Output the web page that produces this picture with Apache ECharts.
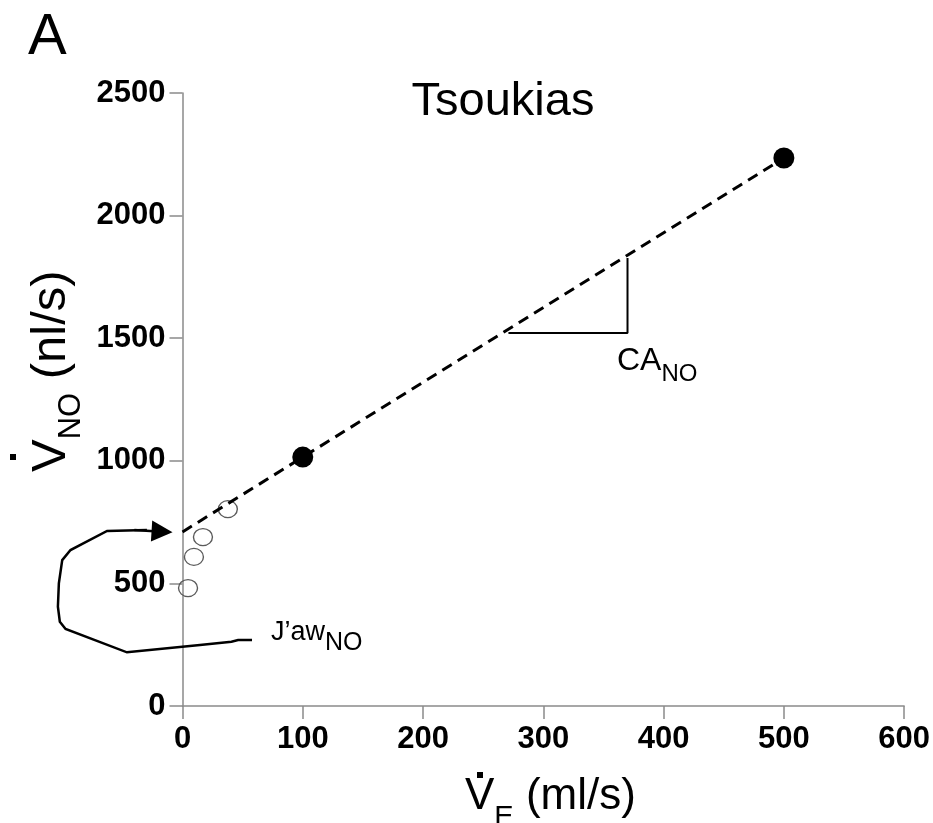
<!DOCTYPE html>
<html><head><meta charset="utf-8">
<script src="https://cdn.jsdelivr.net/npm/echarts@6.0.0/dist/echarts.min.js"></script>
<style>html,body{margin:0;padding:0;background:#fff}#c{width:933px;height:823px}</style>
</head><body><div id="c"></div>
<script>
// ---- data ----
const panelLabel = 'A';
const chartTitle = 'Tsoukias';
const xMin = 0, xMax = 600, xStep = 100;
const yMin = 0, yMax = 2500, yStep = 500;
// open circles (low flows)
const openX = [4.6, 9.5, 17, 37.7];
const openY = [481, 608, 689, 803];
// filled circles
const filledX = [100, 500];
const filledY = [1015, 2235];
// dashed regression line
const fitX = [0, 500];
const fitY = [710, 2235];
// slope triangle
const slopeX = [271, 370, 370];
const slopeY = [1521, 1521, 1827];
// J'aw annotation arrow path (body) and head segment
const jawX = [57.8, 46.2, 40.7, 14.5, -46.2, -97.2, -102, -103.6, -102.8, -100, -93.1, -82.1, -62.7, -29.6];
const jawY = [269, 269, 262, 249, 219, 314, 344, 405, 500, 595, 636, 664, 714, 718];
const headX = [-40, -17];
const headY = [718, 711];
const slopeLabel = ['CA', 'NO'];
const jawLabel = ['J\u2019aw', 'NO'];
const xName = ['V', 'E', ' (ml/s)'];
const yName = ['V', 'NO', ' (nl/s)'];

// ---- chart ----
const FF = '"Liberation Sans", Arial, Helvetica, sans-serif';
const zip = (a, b) => a.map((v, i) => [v, b[i]]);
const chart = echarts.init(document.getElementById('c'), null, {renderer: 'canvas'});

const axisCommon = {
  axisLine: {show: true, lineStyle: {color: '#8a8a8a', width: 1.5}},
  axisTick: {show: true, inside: false, length: 13, lineStyle: {color: '#8a8a8a', width: 1.5}},
  splitLine: {show: false},
  axisLabel: {color: '#000', fontFamily: FF, fontWeight: 'bold', fontSize: 31, formatter: v => String(v)}
};

function sub(parts, main, subSize, mainLH, subLH) {
  return {
    text: '{m|' + parts[0] + '}{s|' + parts[1] + '}' + (parts[2] ? '{m|' + parts[2] + '}' : ''),
    rich: {
      m: {fontFamily: FF, fontSize: main, lineHeight: mainLH, fill: '#000', color: '#000'},
      s: {fontFamily: FF, fontSize: subSize, lineHeight: subLH, verticalAlign: 'bottom', fill: '#000', color: '#000'}
    }
  };
}

const option = {
  backgroundColor: '#fff',
  animation: false,
  grid: {left: 182.5, right: 25, top: 93, bottom: 117, containLabel: false},
  xAxis: Object.assign({type: 'value', min: xMin, max: xMax, interval: xStep}, axisCommon,
    {axisLabel: Object.assign({}, axisCommon.axisLabel, {margin: 18})}),
  yAxis: Object.assign({type: 'value', min: yMin, max: yMax, interval: yStep}, axisCommon,
    {axisLabel: Object.assign({}, axisCommon.axisLabel, {margin: 17})}),
  series: [
    {
      type: 'line', data: zip(fitX, fitY), symbol: 'none', z: 3,
      lineStyle: {color: '#000', width: 3, type: [11, 7]}
    },
    {
      type: 'line', data: zip(slopeX, slopeY), symbol: 'none', z: 3,
      lineStyle: {color: '#000', width: 2}
    },
    {
      type: 'scatter', data: zip(openX, openY), symbol: 'circle', symbolSize: [19, 17], z: 2,
      itemStyle: {color: 'rgba(255,255,255,0)', borderColor: '#5a5a5a', borderWidth: 1.3, opacity: 1}
    },
    {
      type: 'scatter', data: zip(filledX, filledY), symbol: 'circle', symbolSize: 21, z: 4,
      itemStyle: {color: '#000', opacity: 1}
    },
    {
      type: 'lines', coordinateSystem: 'cartesian2d', polyline: true, clip: false, z: 5,
      lineStyle: {color: '#000', width: 2.5, opacity: 1, curveness: 0},
      data: [{coords: zip(jawX, jawY)}]
    },
    {
      type: 'lines', coordinateSystem: 'cartesian2d', polyline: false, clip: false, z: 5,
      symbol: ['none', 'triangle'], symbolSize: 21,
      lineStyle: {color: '#000', width: 2.5, opacity: 1, curveness: 0},
      itemStyle: {color: '#000'},
      data: [{coords: zip(headX, headY)}]
    }
  ],
  graphic: [
    {type: 'text', left: 28, top: 9, style: {text: panelLabel, font: '58px ' + FF, fill: '#000'}},
    {type: 'text', x: 503, y: 79, style: {text: chartTitle, font: '47px ' + FF, fill: '#000', align: 'center', verticalAlign: 'top'}},
    {type: 'text', x: 465, y: 762, style: Object.assign({align: 'left', verticalAlign: 'top'}, sub(xName, 44, 29, 70, 32))},
    {type: 'rect', shape: {x: 477, y: 772, width: 6, height: 6}, style: {fill: '#000'}},
    {type: 'text', x: 15, y: 472, rotation: Math.PI / 2, style: Object.assign({align: 'left', verticalAlign: 'top'}, sub(yName, 49, 31, 72, 32))},
    {type: 'rect', shape: {x: 10, y: 454, width: 6, height: 6}, style: {fill: '#000'}},
    {type: 'text', x: 617, y: 336, style: Object.assign({align: 'left', verticalAlign: 'top'}, sub(slopeLabel, 32, 24, 50, 24))},
    {type: 'text', x: 271, y: 610, style: Object.assign({align: 'left', verticalAlign: 'top'}, sub(jawLabel, 27, 25, 46, 24))}
  ]
};
chart.setOption(option);
</script>
</body></html>
